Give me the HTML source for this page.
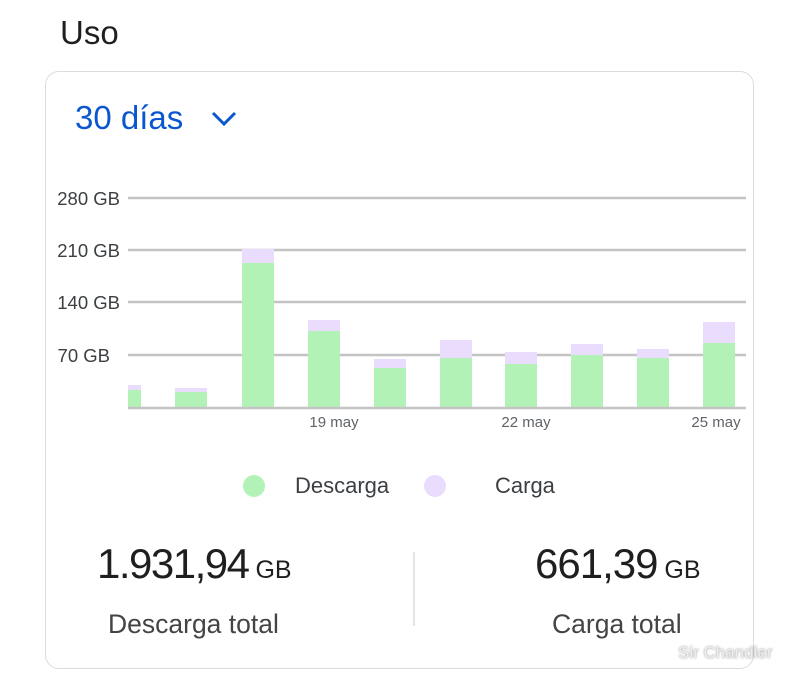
<!DOCTYPE html>
<html><head><meta charset="utf-8"><style>
body{margin:0;width:800px;height:691px;background:#fff;font-family:"Liberation Sans",sans-serif;position:relative;overflow:hidden}
.a{position:absolute;white-space:nowrap}
</style></head><body>
<div class="a" style="left:60px;top:14px;font-size:33px;color:#1f1f1f">Uso</div>
<div class="a" style="left:45px;top:71px;width:707px;height:596px;border:1.5px solid #dadce0;border-radius:14px"></div>
<div class="a" style="left:75px;top:99px;font-size:33px;color:#0b57d0">30 días</div>
<svg class="a" style="left:0;top:0" width="800" height="691">
<polyline points="213,113 224,124 235,113" fill="none" stroke="#0b57d0" stroke-width="3"/>
<g stroke="#c4c4c4" stroke-width="2.5">
<line x1="128" y1="198" x2="746" y2="198"/><line x1="128" y1="250" x2="746" y2="250"/>
<line x1="128" y1="302" x2="746" y2="302"/><line x1="128" y1="355" x2="746" y2="355"/>
</g>
<g font-size="18.5" fill="#3c4043" text-anchor="end" font-family="Liberation Sans,sans-serif">
<text x="120" y="205">280 GB</text><text x="120" y="257">210 GB</text><text x="120" y="309">140 GB</text><text x="110" y="362">70 GB</text>
</g>
<g fill="#e9dcfd">
<rect x="128" y="385" width="13" height="23"/><rect x="175" y="388" width="32" height="20"/>
<rect x="242" y="249" width="32" height="159"/><rect x="308" y="320" width="32" height="88"/>
<rect x="374" y="359" width="32" height="49"/><rect x="440" y="340" width="32" height="68"/>
<rect x="505" y="352" width="32" height="56"/><rect x="571" y="344" width="32" height="64"/>
<rect x="637" y="349" width="32" height="59"/><rect x="703" y="322" width="32" height="86"/>
</g>
<g fill="#b3f2b6">
<rect x="128" y="390" width="13" height="18"/><rect x="175" y="392" width="32" height="16"/>
<rect x="242" y="263" width="32" height="145"/><rect x="308" y="331" width="32" height="77"/>
<rect x="374" y="368" width="32" height="40"/><rect x="440" y="358" width="32" height="50"/>
<rect x="505" y="364" width="32" height="44"/><rect x="571" y="355" width="32" height="53"/>
<rect x="637" y="358" width="32" height="50"/><rect x="703" y="343" width="32" height="65"/>
</g>
<line x1="128" y1="408" x2="746" y2="408" stroke="#c4c4c4" stroke-width="2.5"/>
<g font-size="15" fill="#5f6368" text-anchor="middle" font-family="Liberation Sans,sans-serif">
<text x="334" y="427">19 may</text><text x="526" y="427">22 may</text><text x="716" y="427">25 may</text>
</g>
<circle cx="254" cy="486" r="11" fill="#b3f2b6"/><circle cx="435" cy="486" r="11" fill="#e9dcfd"/>
<line x1="414" y1="552" x2="414" y2="626" stroke="#dadce0" stroke-width="1.5"/>
</svg>
<div class="a" style="left:295px;top:473px;font-size:22px;color:#3c4043">Descarga</div>
<div class="a" style="left:495px;top:473px;font-size:22px;color:#3c4043">Carga</div>
<div class="a" style="left:97px;top:540px;font-size:42px;color:#1f1f1f;letter-spacing:-1.5px">1.931,94<span style="font-size:25px;letter-spacing:0"> GB</span></div>
<div class="a" style="left:535px;top:540px;font-size:42px;color:#1f1f1f;letter-spacing:-1px">661,39<span style="font-size:25px;letter-spacing:0"> GB</span></div>
<div class="a" style="left:108px;top:609px;font-size:26.5px;color:#444">Descarga total</div>
<div class="a" style="left:552px;top:609px;font-size:26.5px;color:#444">Carga total</div>
<div class="a" style="left:678px;top:643px;font-size:17px;color:#eee;text-shadow:0 0 2px #888">Sir Chandler</div>
</body></html>
